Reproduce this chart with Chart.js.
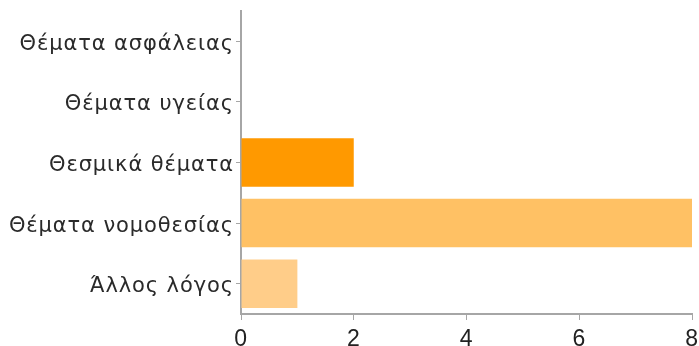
<!DOCTYPE html>
<html>
<head>
<meta charset="utf-8">
<script src="https://cdn.jsdelivr.net/npm/chart.js@4/dist/chart.umd.min.js"></script>
<style>
    html, body { margin: 0; padding: 0; background: #fff; }
    #reasonsChart { display: block; }
</style>
</head>
<body>
<canvas id="reasonsChart" width="699" height="346"></canvas>
<script>
const categories = ['Θέματα ασφάλειας', 'Θέματα υγείας', 'Θεσμικά θέματα', 'Θέματα νομοθεσίας', 'Άλλος λόγος'];
const counts = [0, 0, 2, 8, 1];
const barColors = ['#ff9900', '#ff9900', '#ff9900', '#ffc164', '#ffcd89'];
const xTicks = [0, 2, 4, 6, 8];

const axisGrey = '#a6a6a6';

// the category labels are set a little wider than the font's own spacing
const labelSpacing = {
    id: 'labelSpacing',
    beforeDraw(chart) {
        chart.ctx.letterSpacing = '0.9px';
    },
    afterDraw(chart) {
        chart.ctx.letterSpacing = '0px';
    }
};

new Chart(document.querySelector('#reasonsChart'), {
    type: 'bar',
    data: {
        labels: categories,
        datasets: [{
            data: counts,
            backgroundColor: barColors,
            borderWidth: 0,
            barPercentage: 0.8,
            categoryPercentage: 1
        }]
    },
    plugins: [labelSpacing],
    options: {
        indexAxis: 'y',
        responsive: false,
        animation: false,
        layout: {
            padding: {top: 11, right: 7, bottom: 0, left: 0}
        },
        plugins: {
            legend: {display: false},
            tooltip: {enabled: false}
        },
        scales: {
            x: {
                min: 0,
                max: 8,
                afterBuildTicks: scale => {
                    scale.ticks = xTicks.map(v => ({value: v}));
                },
                afterFit: scale => {
                    scale.height = 32;
                    scale.paddingLeft = 0;
                    scale.paddingRight = 0;
                },
                border: {color: axisGrey, width: 2},
                grid: {
                    drawOnChartArea: false,
                    tickLength: 6,
                    tickWidth: 1,
                    color: axisGrey
                },
                ticks: {
                    color: '#222',
                    padding: 6,
                    maxRotation: 0,
                    font: {family: 'Liberation Sans', size: 23}
                }
            },
            y: {
                afterFit: scale => {
                    scale.width = 241;
                    scale.paddingTop = 0;
                    scale.paddingBottom = 0;
                },
                border: {color: axisGrey, width: 2},
                grid: {
                    drawOnChartArea: false,
                    offset: false,
                    tickLength: 5,
                    tickWidth: 1,
                    color: axisGrey
                },
                ticks: {
                    color: '#2a2a2a',
                    padding: 2,
                    labelOffset: 3,
                    font: {family: 'DejaVu Sans', size: 21}
                }
            }
        }
    }
});
</script>
</body>
</html>
